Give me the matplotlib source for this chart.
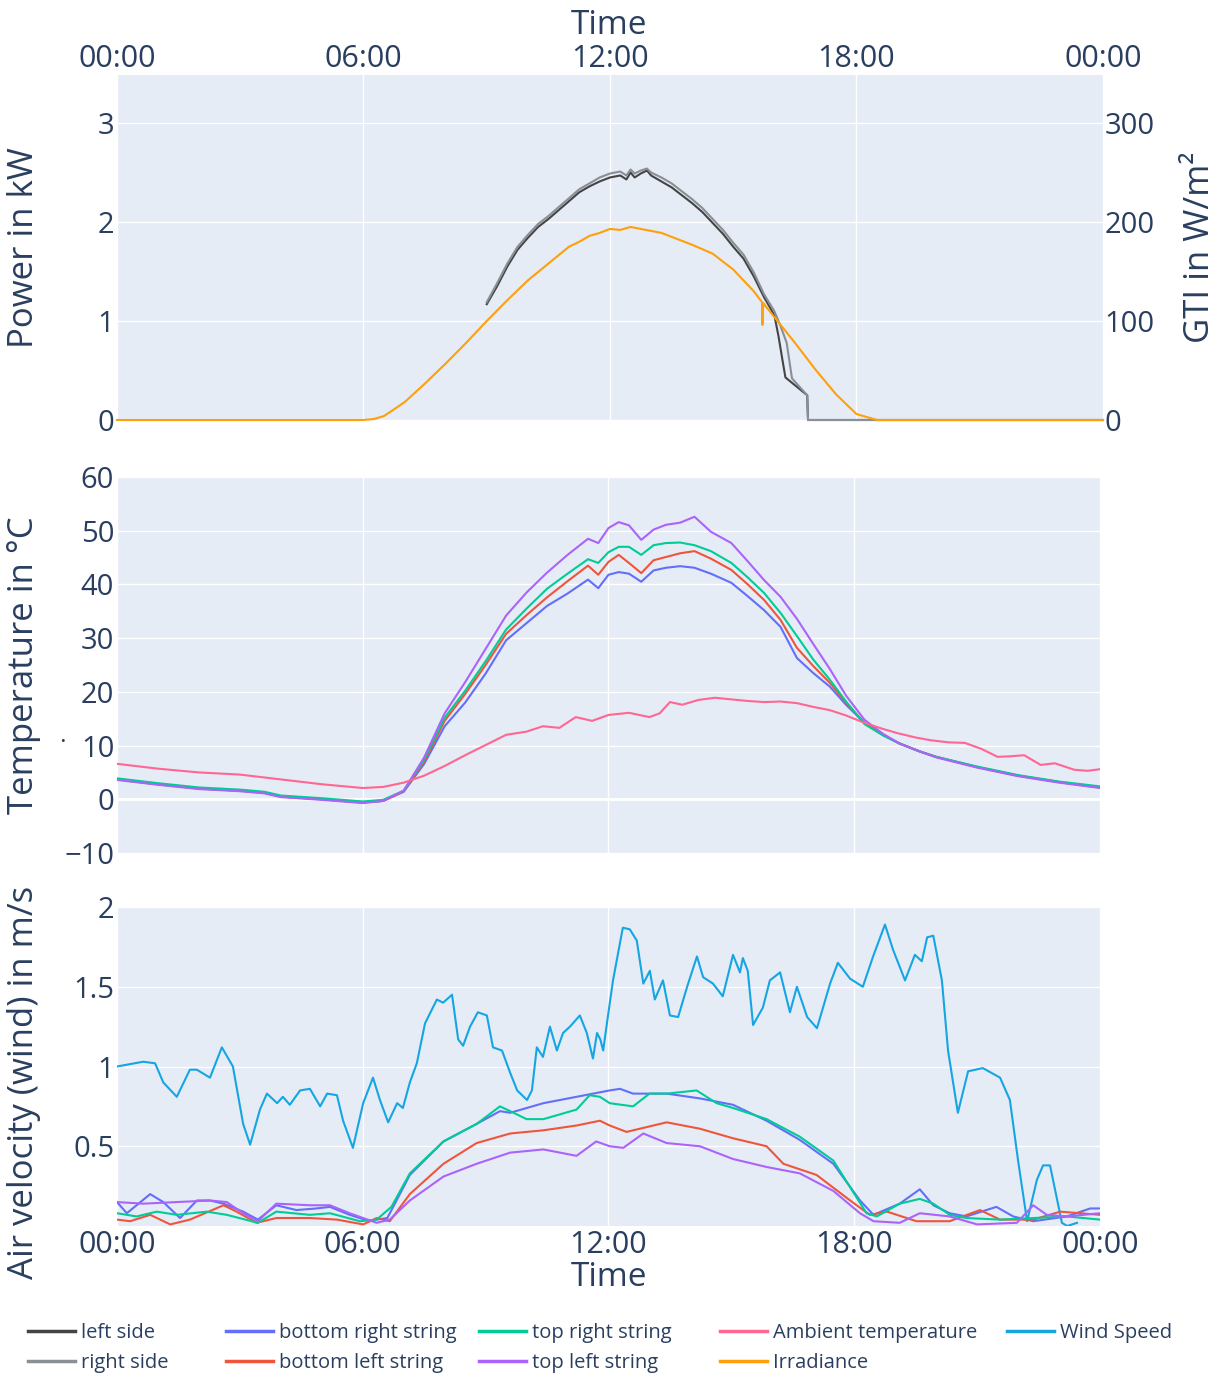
import matplotlib
matplotlib.use("Agg")
import matplotlib.pyplot as plt
from matplotlib.lines import Line2D

plt.rcParams['font.family'] = ['Open Sans', 'DejaVu Sans']

W, H = 1226, 1374
BG = '#E5ECF6'
TXT = '#2a3f5f'

# ---- power (kW) of the two sides ----
t_power = [9.0, 9.25, 9.5, 9.75, 10.0, 10.25, 10.5, 10.75, 11.0, 11.25, 11.5, 11.75,
           12.0, 12.25, 12.4, 12.5, 12.6, 12.75, 12.9, 13.0, 13.25, 13.5, 13.75, 14.0,
           14.25, 14.5, 14.75, 15.0, 15.25, 15.5, 15.75, 16.0, 16.1, 16.2, 16.27, 16.8,
           16.82, 24.0]
left_side = [1.17, 1.35, 1.55, 1.72, 1.84, 1.95, 2.03, 2.12, 2.21, 2.30, 2.36, 2.41,
             2.45, 2.47, 2.43, 2.50, 2.45, 2.49, 2.52, 2.47, 2.41, 2.35, 2.27, 2.19,
             2.10, 1.99, 1.88, 1.75, 1.63, 1.45, 1.24, 1.06, 0.85, 0.60, 0.43, 0.25,
             0.0, 0.0]
t_power_r = [9.0, 9.25, 9.5, 9.75, 10.0, 10.25, 10.5, 10.75, 11.0, 11.25, 11.5, 11.75,
             12.0, 12.25, 12.4, 12.5, 12.6, 12.75, 12.9, 13.0, 13.25, 13.5, 13.75, 14.0,
             14.25, 14.5, 14.75, 15.0, 15.25, 15.5, 15.75, 16.0, 16.15, 16.3, 16.43, 16.8,
             16.82, 24.0]
right_side = [1.19, 1.38, 1.58, 1.75, 1.87, 1.98, 2.06, 2.15, 2.24, 2.33, 2.39, 2.45,
              2.49, 2.51, 2.47, 2.53, 2.49, 2.52, 2.54, 2.50, 2.45, 2.39, 2.31, 2.23,
              2.14, 2.03, 1.92, 1.79, 1.67, 1.49, 1.27, 1.10, 0.95, 0.78, 0.42, 0.25,
              0.0, 0.0]

# ---- irradiance GTI (W/m2) ----
t_irr = [0.0, 6.0, 6.25, 6.5, 7.0, 7.5, 8.0, 8.5, 9.0, 9.5, 10.0, 10.5, 11.0, 11.25,
         11.5, 11.75, 12.0, 12.25, 12.5, 12.75, 13.0, 13.25, 13.5, 14.0, 14.5, 15.0,
         15.5, 15.7, 15.71, 15.73, 15.75, 16.0, 16.5, 17.0, 17.5, 18.0, 18.5, 24.0]
irradiance = [0, 0, 1, 4, 18, 37, 57, 78, 100, 121, 141, 158, 175, 180,
              186, 189, 193, 192, 195, 193, 191, 189, 185, 177, 168, 152,
              130, 119, 96, 118, 117, 104, 78, 51, 26, 6, 0, 0]

# ---- module temperatures (°C) ----
t_temp = [0, 1, 2, 3, 3.6, 4, 5, 6, 6.5, 7, 7.5, 8, 8.5, 9, 9.5, 10, 10.5, 11, 11.5,
          11.75, 12, 12.25, 12.5, 12.8, 13.1, 13.4, 13.75, 14.1, 14.5, 15, 15.4, 15.8,
          16.2, 16.6, 17, 17.4, 17.8, 18.25, 18.7, 19.1, 19.6, 20, 21, 22, 23, 24]
temp_bottom_right = [3.7, 2.8, 2.0, 1.6, 1.2, 0.5, 0.0, -0.6, -0.3, 1.4, 6.6, 13.6,
                     18.0, 23.4, 29.6, 32.8, 36.0, 38.3, 40.9, 39.3, 41.8, 42.3, 42.0,
                     40.5, 42.6, 43.1, 43.4, 43.1, 42.0, 40.3, 37.8, 35.2, 32.1, 26.3,
                     23.5, 21.0, 17.6, 14.2, 12.0, 10.4, 8.9, 7.9, 6.0, 4.4, 3.2, 2.2]
temp_bottom_left = [3.7, 2.8, 2.0, 1.6, 1.2, 0.5, 0.0, -0.6, -0.3, 1.5, 7.0, 14.6,
                    19.6, 25.0, 30.8, 34.3, 37.6, 40.6, 43.5, 41.8, 44.2, 45.5, 44.0,
                    42.1, 44.5, 45.1, 45.8, 46.2, 44.8, 42.7, 40.0, 37.1, 33.4, 28.2,
                    24.8, 21.7, 18.0, 14.2, 12.0, 10.4, 8.9, 7.9, 6.0, 4.4, 3.2, 2.2]
temp_top_right = [3.9, 3.0, 2.2, 1.8, 1.4, 0.7, 0.2, -0.4, -0.1, 1.6, 7.4, 15.2,
                  20.2, 25.7, 31.6, 35.5, 39.2, 42.0, 44.7, 44.0, 46.0, 47.0, 47.0,
                  45.5, 47.3, 47.7, 47.8, 47.3, 46.2, 44.0, 41.3, 38.4, 34.7, 30.4,
                  26.0, 22.3, 18.2, 14.0, 11.9, 10.4, 8.9, 7.9, 6.1, 4.5, 3.3, 2.4]
temp_top_left = [3.6, 2.7, 1.9, 1.5, 1.1, 0.4, -0.1, -0.7, -0.3, 1.6, 7.8, 16.0,
                 21.8, 28.0, 34.2, 38.5, 42.2, 45.5, 48.5, 47.7, 50.5, 51.6, 51.0,
                 48.3, 50.2, 51.1, 51.5, 52.6, 49.8, 47.7, 44.3, 40.8, 37.7, 33.6,
                 28.9, 24.3, 19.3, 14.8, 12.2, 10.4, 8.9, 7.8, 5.9, 4.3, 3.1, 2.1]

t_amb = [0, 1, 2, 3, 4, 5, 6, 6.5, 7, 7.5, 8, 8.5, 9, 9.5, 10, 10.4, 10.8, 11.2, 11.6,
         12.0, 12.5, 13.0, 13.25, 13.5, 13.8, 14.2, 14.6, 15.0, 15.4, 15.8, 16.2, 16.6,
         17.0, 17.4, 17.8, 18.26, 18.7, 19.06, 19.5, 19.86, 20.3, 20.7, 21.1, 21.5,
         21.8, 22.15, 22.55, 22.9, 23.37, 23.7, 24.0]
temp_ambient = [6.6, 5.7, 5.0, 4.6, 3.7, 2.8, 2.1, 2.3, 3.1, 4.4, 6.2, 8.2, 10.1, 12.0,
                12.6, 13.6, 13.3, 15.3, 14.6, 15.7, 16.1, 15.3, 16.0, 18.1, 17.6, 18.5,
                18.9, 18.6, 18.3, 18.1, 18.2, 17.9, 17.2, 16.6, 15.6, 14.2, 13.1, 12.3,
                11.5, 11.0, 10.6, 10.5, 9.4, 7.9, 8.0, 8.2, 6.4, 6.7, 5.5, 5.3, 5.6]

# ---- wind speed (m/s) ----
t_wind = [0.0, 0.64, 0.93, 1.13, 1.46, 1.78, 1.95, 2.27, 2.56, 2.83, 3.08, 3.25, 3.49,
          3.66, 3.91, 4.05, 4.22, 4.47, 4.71, 4.96, 5.13, 5.37, 5.52, 5.76, 6.01, 6.25,
          6.42, 6.62, 6.84, 6.98, 7.15, 7.32, 7.52, 7.81, 7.96, 8.18, 8.33, 8.45, 8.62,
          8.81, 9.03, 9.18, 9.40, 9.60, 9.77, 10.01, 10.13, 10.25, 10.40, 10.57, 10.74,
          10.89, 11.06, 11.30, 11.47, 11.62, 11.72, 11.80, 11.87, 11.95, 12.11, 12.35,
          12.52, 12.69, 12.85, 13.01, 13.13, 13.33, 13.50, 13.70, 13.92, 14.16, 14.31,
          14.55, 14.79, 15.04, 15.21, 15.28, 15.40, 15.53, 15.77, 15.94, 16.19, 16.43,
          16.60, 16.85, 17.09, 17.41, 17.60, 17.90, 18.21, 18.46, 18.75, 18.95, 19.24,
          19.48, 19.65, 19.78, 19.93, 20.14, 20.29, 20.53, 20.78, 21.14, 21.56, 21.80,
          22.00, 22.22, 22.46, 22.61, 22.78, 23.07, 23.20, 23.44]
wind_speed = [1.00, 1.03, 1.02, 0.90, 0.81, 0.98, 0.98, 0.93, 1.12, 1.00, 0.64, 0.51,
              0.73, 0.83, 0.77, 0.81, 0.76, 0.85, 0.86, 0.75, 0.83, 0.82, 0.66, 0.49,
              0.77, 0.93, 0.79, 0.65, 0.77, 0.74, 0.90, 1.02, 1.27, 1.42, 1.40, 1.45,
              1.17, 1.13, 1.25, 1.34, 1.32, 1.12, 1.10, 0.96, 0.85, 0.79, 0.85, 1.12,
              1.06, 1.25, 1.10, 1.21, 1.25, 1.32, 1.21, 1.05, 1.21, 1.17, 1.10, 1.25,
              1.54, 1.87, 1.86, 1.79, 1.52, 1.60, 1.42, 1.54, 1.32, 1.31, 1.50, 1.69,
              1.56, 1.52, 1.44, 1.70, 1.59, 1.68, 1.60, 1.26, 1.37, 1.54, 1.59, 1.34,
              1.50, 1.31, 1.24, 1.52, 1.65, 1.55, 1.50, 1.69, 1.89, 1.73, 1.54, 1.70,
              1.66, 1.81, 1.82, 1.54, 1.10, 0.71, 0.97, 0.99, 0.93, 0.79, 0.41, 0.03,
              0.29, 0.38, 0.38, 0.02, 0.0, 0.02]

# ---- air velocity at the strings (m/s) ----
t_av_br = [0.0, 0.24, 0.81, 1.13, 1.54, 1.95, 2.27, 2.6, 3.08, 3.44, 3.89, 4.38, 4.87,
           5.2, 5.68, 6.17, 6.34, 6.6, 7.15, 7.97, 8.78, 9.35, 9.6, 10.41, 11.22, 12.03,
           12.28, 12.6, 13.42, 14.23, 15.04, 15.86, 16.67, 17.49, 18.14, 18.47, 19.11,
           19.6, 19.93, 20.33, 20.74, 21.47, 21.88, 22.37, 23.19, 23.76, 24.0]
av_bottom_right = [0.15, 0.08, 0.20, 0.15, 0.05, 0.16, 0.16, 0.14, 0.09, 0.04, 0.13,
                   0.10, 0.11, 0.12, 0.07, 0.03, 0.04, 0.05, 0.32, 0.53, 0.64, 0.72,
                   0.71, 0.77, 0.81, 0.85, 0.86, 0.83, 0.83, 0.80, 0.76, 0.66, 0.54,
                   0.39, 0.16, 0.07, 0.14, 0.23, 0.13, 0.08, 0.06, 0.12, 0.06, 0.03,
                   0.06, 0.11, 0.11]
t_av_bl = [0.0, 0.32, 0.81, 1.3, 1.78, 2.6, 2.92, 3.41, 3.89, 4.71, 5.37, 6.01, 6.34,
           6.66, 7.15, 7.97, 8.78, 9.6, 10.41, 11.22, 11.79, 12.03, 12.44, 13.42, 14.23,
           15.04, 15.86, 16.27, 17.08, 17.9, 18.38, 18.8, 19.52, 20.33, 21.07, 21.56,
           22.37, 23.03, 24.0]
av_bottom_left = [0.04, 0.03, 0.07, 0.01, 0.04, 0.13, 0.09, 0.02, 0.05, 0.05, 0.04,
                  0.01, 0.05, 0.03, 0.20, 0.39, 0.52, 0.58, 0.60, 0.63, 0.66, 0.63,
                  0.59, 0.65, 0.61, 0.55, 0.50, 0.39, 0.32, 0.16, 0.07, 0.09, 0.03,
                  0.03, 0.10, 0.04, 0.04, 0.09, 0.07]
t_av_tr = [0.0, 0.48, 0.97, 1.46, 2.19, 2.68, 3.44, 3.89, 4.71, 5.2, 5.93, 6.34, 6.7,
           7.15, 7.97, 8.78, 9.35, 9.6, 10.0, 10.41, 11.22, 11.54, 11.79, 12.03, 12.6,
           13.0, 13.42, 14.15, 14.64, 15.04, 15.86, 16.67, 17.49, 18.3, 18.55, 19.11,
           19.6, 19.93, 20.33, 20.74, 21.56, 22.37, 23.19, 24.0]
av_top_right = [0.08, 0.06, 0.09, 0.07, 0.09, 0.07, 0.02, 0.09, 0.07, 0.08, 0.03,
                0.04, 0.12, 0.33, 0.53, 0.64, 0.75, 0.72, 0.67, 0.67, 0.73, 0.82,
                0.81, 0.77, 0.75, 0.83, 0.83, 0.85, 0.77, 0.74, 0.67, 0.56, 0.41,
                0.08, 0.06, 0.14, 0.17, 0.14, 0.07, 0.05, 0.04, 0.05, 0.06, 0.04]
t_av_tl = [0.0, 0.64, 1.46, 2.27, 2.68, 3.08, 3.44, 3.89, 4.71, 5.2, 5.68, 6.34, 6.66,
           7.15, 7.97, 8.78, 9.6, 10.41, 11.22, 11.7, 12.03, 12.36, 12.85, 13.42, 14.23,
           15.04, 15.86, 16.67, 17.49, 18.14, 18.47, 19.11, 19.6, 20.33, 21.0, 21.97,
           22.37, 22.7, 23.19, 24.0]
av_top_left = [0.15, 0.14, 0.15, 0.16, 0.15, 0.08, 0.03, 0.14, 0.13, 0.13, 0.08,
               0.02, 0.04, 0.16, 0.31, 0.39, 0.46, 0.48, 0.44, 0.53, 0.50, 0.49,
               0.58, 0.52, 0.50, 0.42, 0.37, 0.33, 0.22, 0.08, 0.03, 0.02, 0.08,
               0.06, 0.01, 0.02, 0.13, 0.07, 0.06, 0.08]

time_ticks = [0, 6, 12, 18, 24]
time_labels = ['00:00', '06:00', '12:00', '18:00', '00:00']

C_LEFT = '#444444'
C_RIGHT = '#8a8f96'
C_BR = '#636EFA'
C_BL = '#EF553B'
C_TR = '#00CC96'
C_TL = '#AB63FA'
C_AMB = '#FF6692'
C_IRR = '#FF9F0A'
C_WIND = '#16A5E3'
LW = 1.5

fig = plt.figure(figsize=(W / 100, H / 100), dpi=100)
ax1 = fig.add_axes([117 / W, 1 - 420 / H, 986 / W, 345 / H])
ax2 = fig.add_axes([117 / W, 1 - 853 / H, 983 / W, 376 / H])
ax3 = fig.add_axes([117 / W, 1 - 1226 / H, 983 / W, 319 / H])


def style(ax):
    ax.set_facecolor(BG)
    for s in ax.spines.values():
        s.set_visible(False)
    ax.grid(True, color='white', lw=1)
    ax.set_axisbelow(True)
    ax.tick_params(length=0, labelsize=21, labelcolor=TXT)
    ax.set_xlim(0, 24)
    ax.set_xticks(time_ticks)


for a in (ax1, ax2, ax3):
    style(a)

# panel 1: power + irradiance
ax1.plot(t_power, left_side, color=C_LEFT, lw=LW, clip_on=False)
ax1.plot(t_power_r, right_side, color=C_RIGHT, lw=LW, clip_on=False)
ax1.set_ylim(0, 3.485)
ax1.set_yticks([0, 1, 2, 3])
ax1.set_yticklabels(['0', '1', '2', '3'])
ax1.xaxis.tick_top()
ax1.set_xticklabels(time_labels)
ax1.tick_params(axis='x', pad=0.5, labelsize=22)
ax1.tick_params(axis='y', pad=2)
ax1.set_ylabel('Power in kW', fontsize=25, color=TXT)
ax1.yaxis.set_label_coords(-0.077, 0.5)

ax1r = ax1.twinx()
for s in ax1r.spines.values():
    s.set_visible(False)
ax1r.plot(t_irr, irradiance, color=C_IRR, lw=LW, clip_on=False)
ax1r.set_ylim(0, 348.5)
ax1r.set_yticks([0, 100, 200, 300])
ax1r.tick_params(length=0, labelsize=21, labelcolor=TXT, pad=1)
ax1r.set_ylabel('GTI in W/m²', fontsize=25, color=TXT)
ax1r.yaxis.set_label_coords(1.081, 0.5)

# panel 2: temperatures
ax2.axhline(0, color='white', lw=2, zorder=1)
ax2.plot(t_temp, temp_bottom_right, color=C_BR, lw=LW)
ax2.plot(t_temp, temp_bottom_left, color=C_BL, lw=LW)
ax2.plot(t_temp, temp_top_right, color=C_TR, lw=LW)
ax2.plot(t_temp, temp_top_left, color=C_TL, lw=LW)
ax2.plot(t_amb, temp_ambient, color=C_AMB, lw=LW)
ax2.set_ylim(-10, 60)
ax2.set_yticks(range(-10, 61, 10))
ax2.set_yticklabels(['\u221210', '0', '10', '20', '30', '40', '50', '60'])
ax2.tick_params(axis='x', labelbottom=False)
ax2.tick_params(axis='y', pad=2)
ax2.set_ylabel('Temperature in °C', fontsize=25, color=TXT)
ax2.yaxis.set_label_coords(-0.077, 0.5)

# panel 3: air velocity
ax3.plot(t_wind, wind_speed, color=C_WIND, lw=LW)
ax3.plot(t_av_br, av_bottom_right, color=C_BR, lw=LW)
ax3.plot(t_av_bl, av_bottom_left, color=C_BL, lw=LW)
ax3.plot(t_av_tr, av_top_right, color=C_TR, lw=LW)
ax3.plot(t_av_tl, av_top_left, color=C_TL, lw=LW)
ax3.set_ylim(0, 2)
ax3.set_yticks([0.5, 1, 1.5, 2])
ax3.set_yticklabels(['0.5', '1', '1.5', '2'])
ax3.set_xticklabels(time_labels)
ax3.tick_params(axis='x', pad=3, labelsize=22)
ax3.tick_params(axis='y', pad=2)
ax3.set_ylabel('Air velocity (wind) in m/s', fontsize=25, color=TXT)
ax3.yaxis.set_label_coords(-0.077, 0.45)

fig.text(609 / W, 1 - 25 / H, 'Time', fontsize=24, color=TXT, ha='center', va='center')
fig.text(609 / W, 1 - 1277 / H, 'Time', fontsize=24, color=TXT, ha='center', va='center')
fig.text(62 / W, 1 - 742 / H, '·', fontsize=18, color=TXT, ha='center', va='center')

# legend: five columns placed like the reference
legend_cols = [
    (28, [('left side', C_LEFT), ('right side', C_RIGHT)]),
    (226, [('bottom right string', C_BR), ('bottom left string', C_BL)]),
    (479, [('top right string', C_TR), ('top left string', C_TL)]),
    (720, [('Ambient temperature', C_AMB), ('Irradiance', C_IRR)]),
    (1007, [('Wind Speed', C_WIND)]),
]
for x0, entries in legend_cols:
    hs = [Line2D([], [], color=c, lw=2.5) for _, c in entries]
    ls = [n for n, _ in entries]
    fig.legend(hs, ls, loc='upper left', bbox_to_anchor=(x0 / W, 1 - 1323 / H),
               frameon=False, fontsize=14.5, labelcolor=TXT, handlelength=2.35,
               handletextpad=0.3, labelspacing=0.5, borderpad=0, borderaxespad=0)

fig.savefig('out.png', dpi=100)
